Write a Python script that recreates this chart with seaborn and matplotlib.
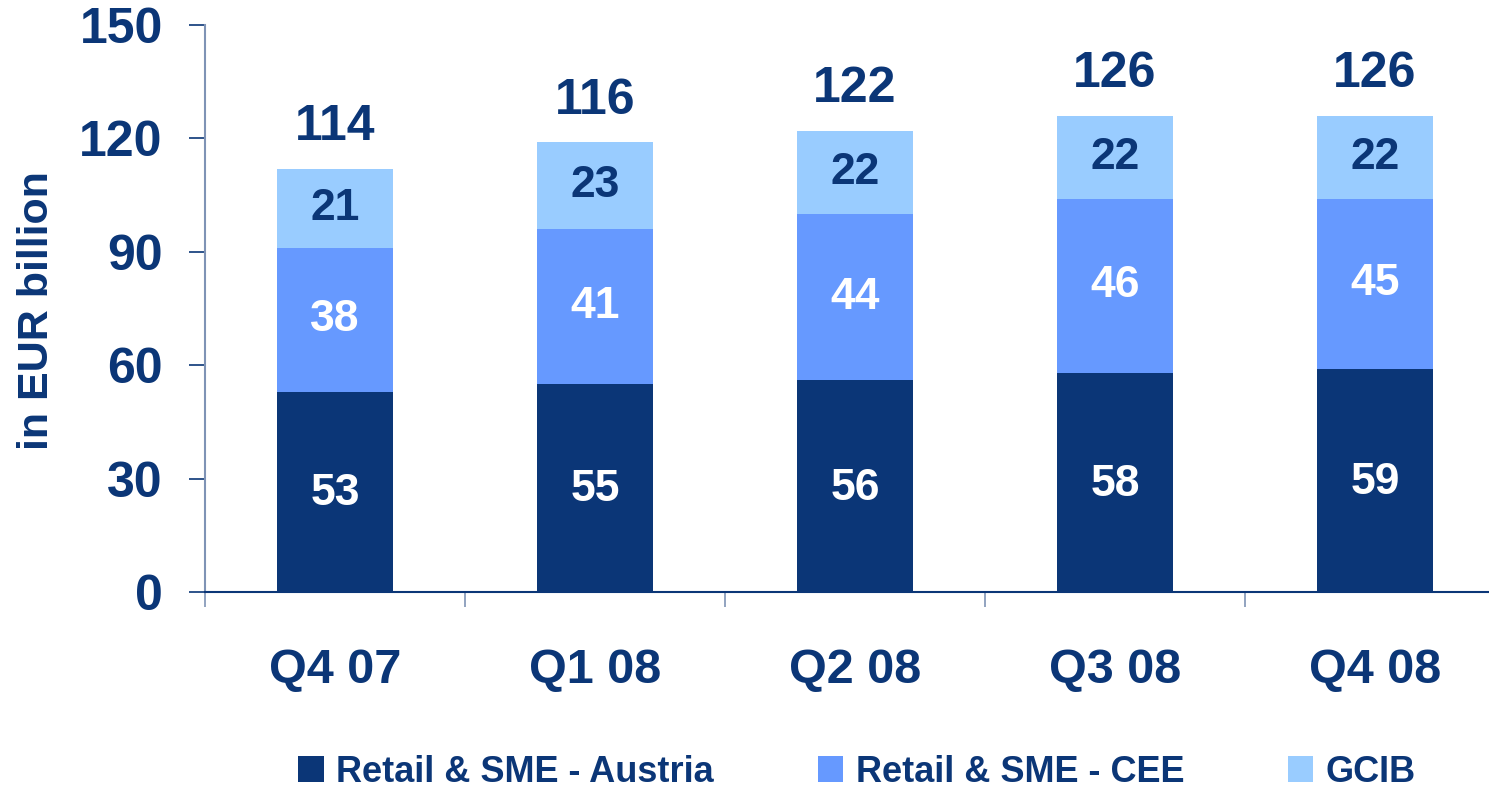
import matplotlib
matplotlib.use("Agg")
import matplotlib.pyplot as plt
import seaborn as sns
import numpy as np
import pandas as pd
from matplotlib.patches import Patch

categories = ["Q4 07", "Q1 08", "Q2 08", "Q3 08", "Q4 08"]
austria = [53, 55, 56, 58, 59]
cee = [38, 41, 44, 46, 45]
gcib = [21, 23, 22, 22, 22]
totals = [114, 116, 122, 126, 126]
series_names = ["Retail & SME - Austria", "Retail & SME - CEE", "GCIB"]
yticks = [0, 30, 60, 90, 120, 150]

C_DARK = "#0B3677"
C_MID = "#6699FF"
C_LIGHT = "#99CCFF"
TXT = "#0B3677"

sns.set_style("white")
plt.rcParams["font.family"] = ["Liberation Sans", "DejaVu Sans"]
plt.rcParams["font.weight"] = "bold"

fig = plt.figure(figsize=(14.89, 7.88), dpi=100)
ax = fig.add_axes([205/1489, 196/788, 1300/1489, 567/788])

df = pd.DataFrame({"cat": categories, "a": austria, "c": cee, "g": gcib})
df["ac"] = df["a"] + df["c"]
df["acg"] = df["ac"] + df["g"]

bw = 0.446
sns.barplot(data=df, x="cat", y="acg", color=C_LIGHT, width=bw, ax=ax, saturation=1, linewidth=0)
sns.barplot(data=df, x="cat", y="ac", color=C_MID, width=bw, ax=ax, saturation=1, linewidth=0)
sns.barplot(data=df, x="cat", y="a", color=C_DARK, width=bw, ax=ax, saturation=1, linewidth=0)

for i in range(len(categories)):
    a, c, g = austria[i], cee[i], gcib[i]
    ax.text(i, a/2 - 0.5, str(a), ha="center", va="center", color="white", fontsize=32, fontweight="bold")
    ax.text(i, a + c/2, str(c), ha="center", va="center", color="white", fontsize=32, fontweight="bold")
    ax.text(i, a + c + g/2, str(g), ha="center", va="center", color=TXT, fontsize=32, fontweight="bold")
    ax.text(i, a + c + g + 11.0, str(totals[i]), ha="center", va="center", color=TXT, fontsize=36, fontweight="bold")

ax.set_xlim(-0.5, 4.5)
ax.set_ylim(0, 150)
ax.set_yticks(yticks)
ax.set_yticklabels([str(t) for t in yticks])
ax.set_xticks(range(len(categories)))
ax.set_xticklabels(categories)
ax.set_xticks(np.arange(-0.5, 4.6, 1.0), minor=True)

ax.tick_params(axis="y", which="major", direction="out", length=11.5, width=1.2, color=C_DARK,
               pad=19, labelsize=36, labelcolor=TXT, left=True)
ax.tick_params(axis="x", which="major", length=0, pad=40, labelsize=35, labelcolor=TXT)
ax.tick_params(axis="x", which="minor", direction="out", length=11, width=1.2, color="#7f93b5", bottom=True)
for lab in ax.get_xticklabels() + ax.get_yticklabels():
    lab.set_fontweight("bold")

for s in ["top", "right"]:
    ax.spines[s].set_visible(False)
ax.spines["left"].set_color("#7f93b5")
ax.spines["left"].set_linewidth(1.5)
ax.spines["bottom"].set_color(C_DARK)
ax.spines["bottom"].set_linewidth(1.5)
ax.set_xlabel("")
ax.set_ylabel("in EUR billion", fontsize=31, fontweight="bold", color=TXT)
ax.yaxis.set_label_coords(-0.114, 0.497)

handles = [Patch(facecolor=c, edgecolor="none") for c in (C_DARK, C_MID, C_LIGHT)]
leg = fig.legend(handles, series_names, loc="center", bbox_to_anchor=(0.5756, 0.02), ncol=3,
                 frameon=False, fontsize=26, handlelength=0.7, handleheight=0.7, handletextpad=0.35,
                 columnspacing=2.87)
for t in leg.get_texts():
    t.set_color(TXT)
    t.set_fontweight("bold")

fig.savefig("out.png", dpi=100)
